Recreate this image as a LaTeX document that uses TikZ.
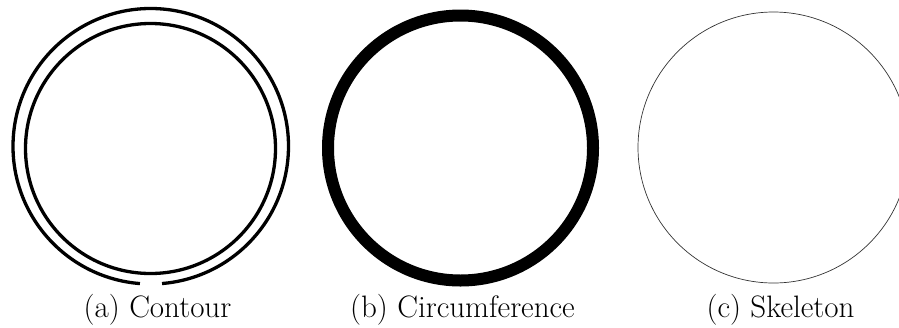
\documentclass[tikz,border=0pt]{standalone}
\begin{document}
\begin{tikzpicture}[x=1pt,y=-1pt,
  contour/.style={draw=black,line width=3.3pt},
  circum/.style={draw=black,line width=12pt},
  skel/.style={draw=black!80,line width=0.7pt},
  caption/.style={anchor=base,inner sep=0pt,font=\fontsize{31}{37}\selectfont}]
\useasboundingbox (0,0) rectangle (899,327);
\clip (0,0) rectangle (899,327);
% (a) contour
\draw[contour] (150.75,146.25) ++(94.5:137.75) arc[start angle=94.5,end angle=445.3,radius=137.75];
\draw[contour] (150.5,148.5) circle[radius=125];
% (b) circumference
\draw[circum] (460.5,148) circle[radius=132.5];
% (c) skeleton
\draw[skel] (773.5,147.5) circle[radius=135.5];
% captions
\node[caption] (ca) at (157.5,317) {(a) Contour};
\node[caption] (cb) at (462.5,317) {(b) Circumference};
\node[caption] (cc) at (780.5,317) {(c) Skeleton};
\end{tikzpicture}
\end{document}
